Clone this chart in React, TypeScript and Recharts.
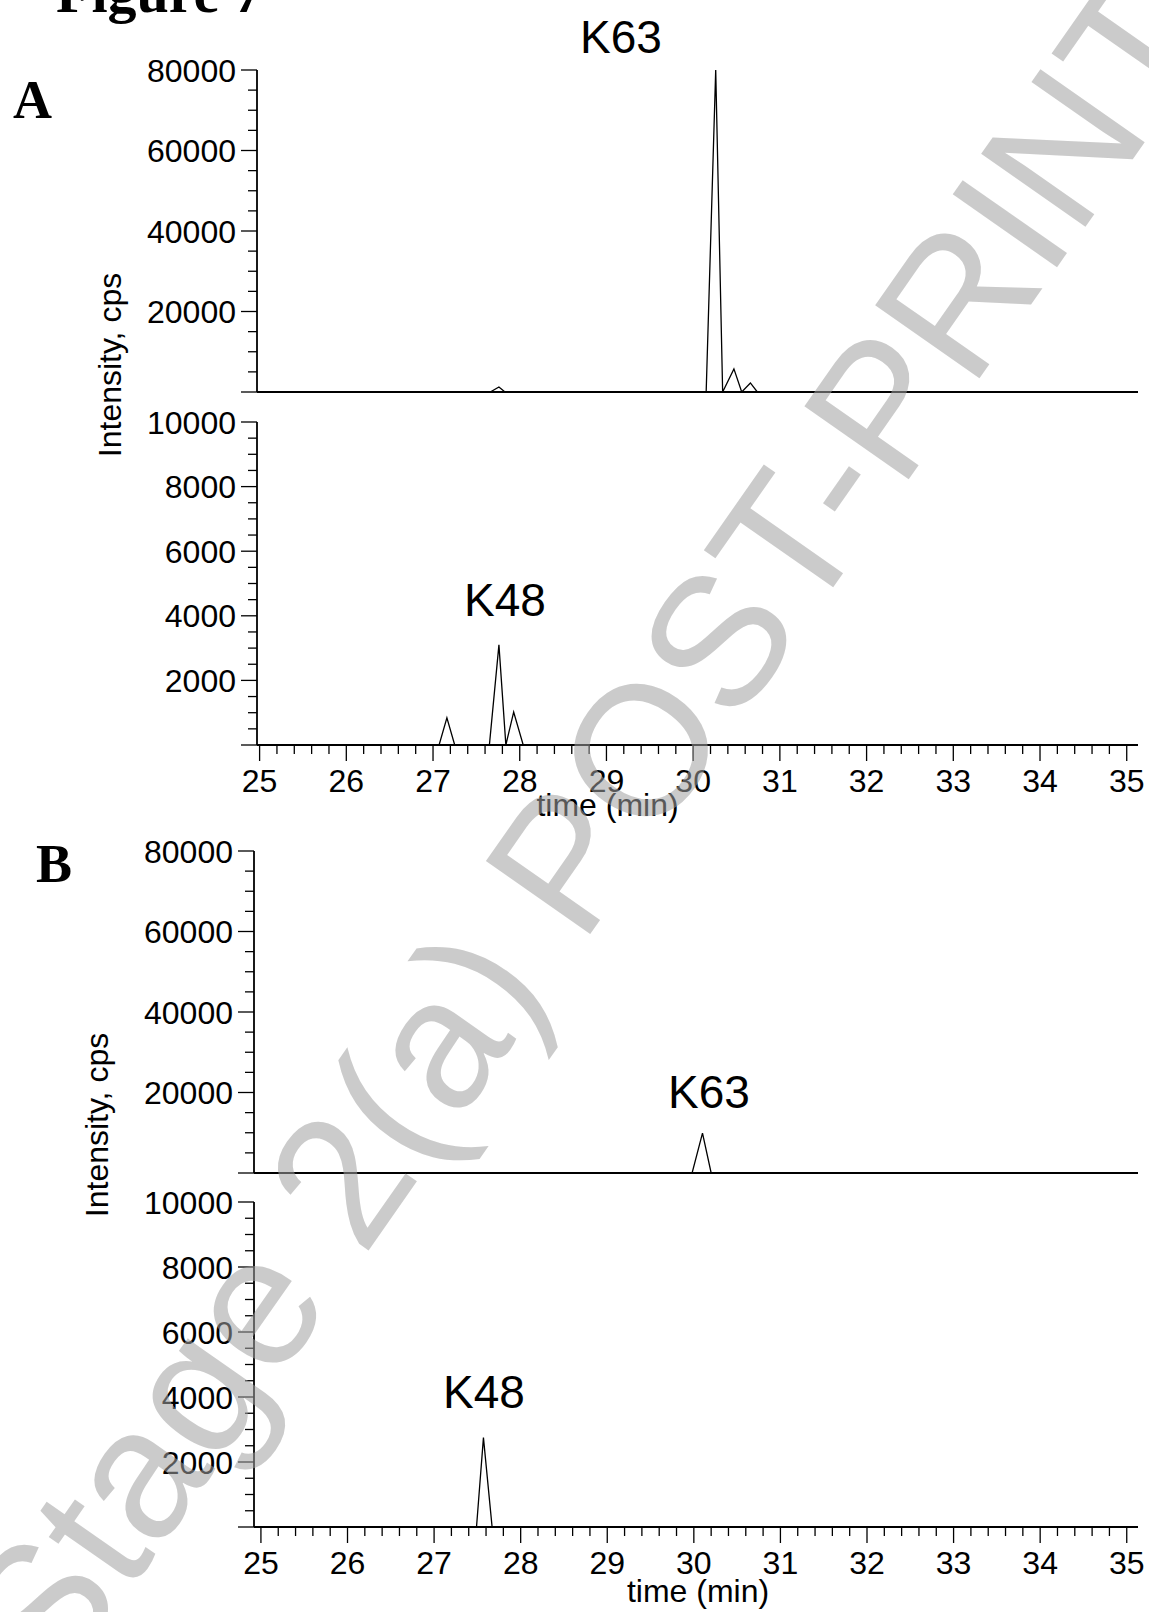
import React from "react"
import { LineChart, Line, XAxis, YAxis, Label } from "recharts"

const SANS = '"Liberation Sans", Arial, sans-serif'
const SERIF = '"Liberation Serif", "Times New Roman", serif'

// panel A, upper trace (K63)
const timeA63 = [24.97, 27.66, 27.76, 27.83, 30.15, 30.26, 30.34, 30.47, 30.56, 30.66, 30.74, 35.13]
const intA63 = [0, 0, 1250, 0, 0, 80000, 0, 5750, 0, 2250, 0, 0]
// panel A, lower trace (K48)
const timeA48 = [24.97, 27.07, 27.16, 27.25, 27.65, 27.76, 27.84, 27.93, 28.04, 35.13]
const intA48 = [0, 0, 840, 0, 0, 3100, 0, 1020, 0, 0]
// panel B, upper trace (K63)
const timeB63 = [24.92, 29.98, 30.1, 30.2, 35.13]
const intB63 = [0, 0, 9900, 0, 0]
// panel B, lower trace (K48)
const timeB48 = [24.92, 27.49, 27.57, 27.67, 35.13]
const intB48 = [0, 0, 2750, 0, 0]

const xMajor = [25, 26, 27, 28, 29, 30, 31, 32, 33, 34, 35]
const yMajorHigh = [0, 20000, 40000, 60000, 80000]
const yMajorLow = [0, 2000, 4000, 6000, 8000, 10000]

// minor ticks between the majors
const xTicks = xMajor.flatMap((m, i) =>
  i === xMajor.length - 1 ? [m] : [0, 0.2, 0.4, 0.6, 0.8].map((d) => +(m + d).toFixed(1))
)
const yTicksHigh = yMajorHigh.flatMap((m, i) =>
  i === yMajorHigh.length - 1 ? [m] : [0, 5000, 10000, 15000].map((d) => m + d)
)
const yTicksLow = yMajorLow.flatMap((m, i) =>
  i === yMajorLow.length - 1 ? [m] : [0, 500, 1000, 1500].map((d) => m + d)
)

const XTick = (props: any) => {
  const { x, y, payload } = props
  const v = payload.value
  const major = Math.abs(v - Math.round(v)) < 1e-6
  return (
    <g>
      <line x1={x} x2={x} y1={y} y2={y + (major ? 16 : 9)} stroke="#000" strokeWidth={1.3} />
      {major && (
        <text x={x} y={y + 47} textAnchor="middle" fontSize={32} fontFamily={SANS} fill="#000">
          {v}
        </text>
      )}
    </g>
  )
}

const makeYTick = (majors: number[]) => (props: any) => {
  const { x, y, payload } = props
  const v = payload.value
  const major = majors.includes(v)
  return (
    <g>
      <line x1={x} x2={x - (major ? 16 : 9)} y1={y} y2={y} stroke="#000" strokeWidth={1.3} />
      {major && v !== 0 && (
        <text x={x - 21} y={y} dy="0.36em" textAnchor="end" fontSize={32} fontFamily={SANS} fill="#000">
          {v}
        </text>
      )}
    </g>
  )
}

interface TraceProps {
  top: number
  height: number
  marginTop: number
  plotLeft: number
  xDomain: [number, number]
  time: number[]
  intensity: number[]
  yTicks: number[]
  yMajors: number[]
  yMax: number
  showX?: boolean
  xAxisHeight?: number
  xLabelDx?: number
  xLabelOffset?: number
}

function Trace({
  top,
  height,
  marginTop,
  plotLeft,
  xDomain,
  time,
  intensity,
  yTicks,
  yMajors,
  yMax,
  showX = false,
  xAxisHeight = 2,
  xLabelDx = 0,
  xLabelOffset = 0
}: TraceProps) {
  const data = time.map((t, i) => ({ t, v: intensity[i] }))
  return (
    <div style={{ position: "absolute", left: 0, top, width: 1149, height }}>
      <LineChart
        width={1149}
        height={height}
        data={data}
        margin={{ top: marginTop, right: 11, left: plotLeft - 100, bottom: 0 }}
      >
        <XAxis
          dataKey="t"
          type="number"
          domain={xDomain}
          allowDataOverflow
          ticks={showX ? xTicks : []}
          interval={0}
          height={xAxisHeight}
          tickSize={0}
          tickMargin={0}
          tickLine={false}
          tick={showX ? (p: any) => <XTick {...p} /> : false}
          axisLine={{ stroke: "#000", strokeWidth: 1.8 }}
        >
          {showX && (
            <Label
              value="time (min)"
              position="insideBottom"
              offset={xLabelOffset}
              dx={xLabelDx}
              fill="#000"
              style={{ fontSize: 32, fontFamily: SANS, fill: "#000" }}
            />
          )}
        </XAxis>
        <YAxis
          type="number"
          domain={[0, yMax]}
          allowDataOverflow
          ticks={yTicks}
          interval={0}
          width={100}
          tickSize={0}
          tickMargin={0}
          tickLine={false}
          tick={makeYTick(yMajors)}
          axisLine={{ stroke: "#000", strokeWidth: 1.8 }}
        />
        <Line
          type="linear"
          dataKey="v"
          stroke="#000"
          strokeWidth={1.3}
          dot={false}
          isAnimationActive={false}
        />
      </LineChart>
    </div>
  )
}

export default function App() {
  const domA: [number, number] = [24.97, 35.13]
  const domB: [number, number] = [24.92, 35.13]
  return (
    <div style={{ position: "absolute", left: 0, top: 0, width: 1149, height: 1612, background: "#fff", overflow: "hidden" }}>
      <Trace top={0} height={394} marginTop={70} plotLeft={257} xDomain={domA}
        time={timeA63} intensity={intA63} yTicks={yTicksHigh} yMajors={yMajorHigh} yMax={80000} />
      <Trace top={400} height={430} marginTop={22} plotLeft={257} xDomain={domA}
        time={timeA48} intensity={intA48} yTicks={yTicksLow} yMajors={yMajorLow} yMax={10000}
        showX xAxisHeight={85} xLabelDx={-90} xLabelOffset={14} />
      <Trace top={826} height={349} marginTop={25} plotLeft={254} xDomain={domB}
        time={timeB63} intensity={intB63} yTicks={yTicksHigh} yMajors={yMajorHigh} yMax={80000} />
      <Trace top={1180} height={432} marginTop={22} plotLeft={254} xDomain={domB}
        time={timeB48} intensity={intB48} yTicks={yTicksLow} yMajors={yMajorLow} yMax={10000}
        showX xAxisHeight={85} xLabelDx={2} xLabelOffset={10} />

      <svg width={1149} height={1612} style={{ position: "absolute", left: 0, top: 0, pointerEvents: "none" }}>
        <text x={56} y={12} fontSize={58} fontWeight="bold" fontFamily={SERIF} fill="#000">Figure 7</text>
        <text x={13} y={118} fontSize={54} fontWeight="bold" fontFamily={SERIF} fill="#000">A</text>
        <text x={36} y={882} fontSize={54} fontWeight="bold" fontFamily={SERIF} fill="#000">B</text>

        <text transform="translate(121,365) rotate(-90)" textAnchor="middle" fontSize={32} fontFamily={SANS} fill="#000">Intensity, cps</text>
        <text transform="translate(108,1125) rotate(-90)" textAnchor="middle" fontSize={32} fontFamily={SANS} fill="#000">Intensity, cps</text>

        <text x={621} y={53} textAnchor="middle" fontSize={46} fontFamily={SANS} fill="#000">K63</text>
        <text x={505} y={616} textAnchor="middle" fontSize={46} fontFamily={SANS} fill="#000">K48</text>
        <text x={709} y={1108} textAnchor="middle" fontSize={46} fontFamily={SANS} fill="#000">K63</text>
        <text x={484} y={1408} textAnchor="middle" fontSize={46} fontFamily={SANS} fill="#000">K48</text>

        <text
          transform="translate(585,830) rotate(-55)"
          textAnchor="middle"
          dominantBaseline="central"
          fontSize={185}
          fontFamily={SANS}
          fill="#a0a0a0"
          fillOpacity={0.55}
        >
          Stage 2(a) POST-PRINT
        </text>
      </svg>
    </div>
  )
}
